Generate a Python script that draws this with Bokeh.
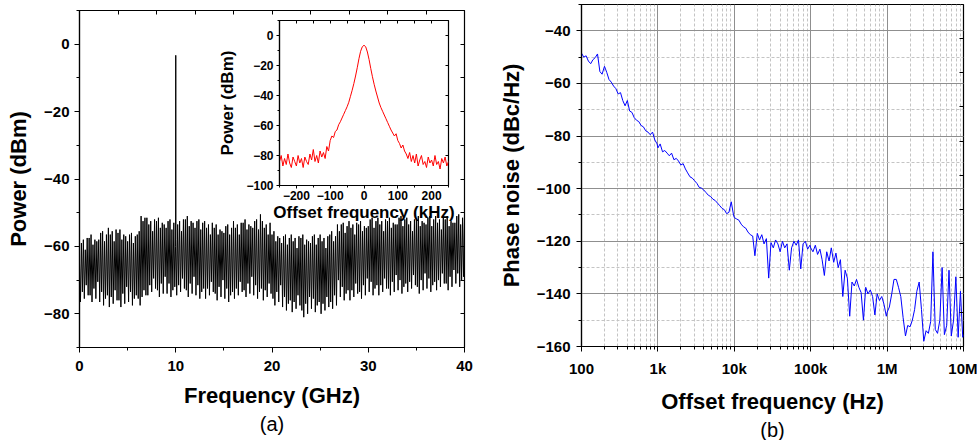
from bokeh.plotting import figure
from bokeh.models import (Range1d, LinearAxis, SingleIntervalTicker, FixedTicker,
                          Title, GridBox, Column)
from bokeh.embed import file_html
from bokeh.resources import INLINE

# ---------------- data ----------------
# (a) RF spectrum 0-40 GHz (carrier at 10 GHz)
spec_freq_ghz = [
    0.0, 0.1, 0.2, 0.3, 0.4, 0.5, 0.6, 0.7, 0.8, 0.9,
    1.0, 1.1, 1.2, 1.3, 1.4, 1.5, 1.6, 1.7, 1.8, 1.9,
    2.0, 2.1, 2.2, 2.3, 2.4, 2.5, 2.6, 2.7, 2.8, 2.9,
    3.0, 3.1, 3.2, 3.3, 3.4, 3.5, 3.6, 3.7, 3.8, 3.9,
    4.0, 4.1, 4.2, 4.3, 4.4, 4.5, 4.6, 4.7, 4.8, 4.9,
    5.0, 5.1, 5.2, 5.3, 5.4, 5.5, 5.6, 5.7, 5.8, 5.9,
    6.0, 6.1, 6.2, 6.3, 6.4, 6.5, 6.6, 6.7, 6.8, 6.9,
    7.0, 7.1, 7.2, 7.3, 7.4, 7.5, 7.6, 7.7, 7.8, 7.9,
    8.0, 8.1, 8.2, 8.3, 8.4, 8.5, 8.6, 8.7, 8.8, 8.9,
    9.0, 9.1, 9.2, 9.3, 9.4, 9.5, 9.6, 9.7, 9.8, 9.9,
    9.98, 10.0, 10.02,
    10.1, 10.2, 10.3, 10.4, 10.5, 10.6, 10.7, 10.8, 10.9,
    11.0, 11.1, 11.2, 11.3, 11.4, 11.5, 11.6, 11.7, 11.8, 11.9,
    12.0, 12.1, 12.2, 12.3, 12.4, 12.5, 12.6, 12.7, 12.8, 12.9,
    13.0, 13.1, 13.2, 13.3, 13.4, 13.5, 13.6, 13.7, 13.8, 13.9,
    14.0, 14.1, 14.2, 14.3, 14.4, 14.5, 14.6, 14.7, 14.8, 14.9,
    15.0, 15.1, 15.2, 15.3, 15.4, 15.5, 15.6, 15.7, 15.8, 15.9,
    16.0, 16.1, 16.2, 16.3, 16.4, 16.5, 16.6, 16.7, 16.8, 16.9,
    17.0, 17.1, 17.2, 17.3, 17.4, 17.5, 17.6, 17.7, 17.8, 17.9,
    18.0, 18.1, 18.2, 18.3, 18.4, 18.5, 18.6, 18.7, 18.8, 18.9,
    19.0, 19.1, 19.2, 19.3, 19.4, 19.5, 19.6, 19.7, 19.8, 19.9,
    20.0, 20.1, 20.2, 20.3, 20.4, 20.5, 20.6, 20.7, 20.8, 20.9,
    21.0, 21.1, 21.2, 21.3, 21.4, 21.5, 21.6, 21.7, 21.8, 21.9,
    22.0, 22.1, 22.2, 22.3, 22.4, 22.5, 22.6, 22.7, 22.8, 22.9,
    23.0, 23.1, 23.2, 23.3, 23.4, 23.5, 23.6, 23.7, 23.8, 23.9,
    24.0, 24.1, 24.2, 24.3, 24.4, 24.5, 24.6, 24.7, 24.8, 24.9,
    25.0, 25.1, 25.2, 25.3, 25.4, 25.5, 25.6, 25.7, 25.8, 25.9,
    26.0, 26.1, 26.2, 26.3, 26.4, 26.5, 26.6, 26.7, 26.8, 26.9,
    27.0, 27.1, 27.2, 27.3, 27.4, 27.5, 27.6, 27.7, 27.8, 27.9,
    28.0, 28.1, 28.2, 28.3, 28.4, 28.5, 28.6, 28.7, 28.8, 28.9,
    29.0, 29.1, 29.2, 29.3, 29.4, 29.5, 29.6, 29.7, 29.8, 29.9,
    30.0, 30.1, 30.2, 30.3, 30.4, 30.5, 30.6, 30.7, 30.8, 30.9,
    31.0, 31.1, 31.2, 31.3, 31.4, 31.5, 31.6, 31.7, 31.8, 31.9,
    32.0, 32.1, 32.2, 32.3, 32.4, 32.5, 32.6, 32.7, 32.8, 32.9,
    33.0, 33.1, 33.2, 33.3, 33.4, 33.5, 33.6, 33.7, 33.8, 33.9,
    34.0, 34.1, 34.2, 34.3, 34.4, 34.5, 34.6, 34.7, 34.8, 34.9,
    35.0, 35.1, 35.2, 35.3, 35.4, 35.5, 35.6, 35.7, 35.8, 35.9,
    36.0, 36.1, 36.2, 36.3, 36.4, 36.5, 36.6, 36.7, 36.8, 36.9,
    37.0, 37.1, 37.2, 37.3, 37.4, 37.5, 37.6, 37.7, 37.8, 37.9,
    38.0, 38.1, 38.2, 38.3, 38.4, 38.5, 38.6, 38.7, 38.8, 38.9,
    39.0, 39.1, 39.2, 39.3, 39.4, 39.5, 39.6, 39.7, 39.8, 39.9,
    40.0,
]
spec_dbm = [
    -65, -76.5, -59, -73.5, -58, -75.5, -61, -71.5, -57.5, -74.5,
    -57.5, -74.5, -56.5, -76.5, -59.5, -72.5, -58, -75.5, -58.5, -70.5,
    -58, -76.5, -56, -73.5, -55.5, -77.5, -58.5, -75.5, -56.5, -74.5,
    -54.5, -78, -56.5, -75, -55.5, -77, -58.5, -73, -55, -76,
    -56, -76, -55, -78, -58, -74, -56.5, -77, -57, -72,
    -58.5, -76.5, -56.5, -73.5, -56, -77.5, -59, -75.5, -57, -74.5,
    -56.5, -75.5, -55.5, -77.5, -51, -75, -52.5, -73, -51.5, -74.5,
    -51.5, -74.5, -53.5, -71.5, -52.5, -73.5, -55.5, -69.5, -52, -72.5,
    -52.5, -73, -51.5, -75, -54.5, -71, -53, -74, -53.5, -69,
    -54.5, -74, -52.5, -71, -52, -75, -55, -73, -53, -72,
    -60, -3.3, -58,
    -74.5, -53.5, -71.5, -52.5, -73.5, -55.5, -69.5, -52, -72.5,
    -52, -73, -51, -75, -54, -71, -52.5, -74, -53, -69,
    -54.5, -74.5, -52.5, -71.5, -52, -75.5, -55, -73.5, -53, -72.5,
    -52.5, -75.5, -54.5, -72.5, -53.5, -74.5, -56.5, -70.5, -53, -73.5,
    -54.5, -74, -53.5, -76, -56.5, -72, -55, -75, -55.5, -70,
    -56, -75.5, -54, -72.5, -53.5, -76.5, -56.5, -74.5, -54.5, -73.5,
    -52.5, -75.5, -54.5, -72.5, -53.5, -74.5, -56.5, -70.5, -53, -73.5,
    -53, -73, -52, -75, -55, -71, -53.5, -74, -54, -69,
    -54.5, -74.5, -52.5, -71.5, -52, -75.5, -55, -73.5, -50.5, -72.5,
    -52.5, -76, -54.5, -73, -53.5, -75, -56.5, -71, -53, -74,
    -56.5, -75.5, -55.5, -77.5, -58.5, -73.5, -57, -76.5, -57.5, -71.5,
    -59, -78, -57, -75, -56.5, -79, -59.5, -77, -57.5, -76,
    -56.5, -79.5, -58.5, -76.5, -57.5, -78.5, -60.5, -74.5, -57, -77.5,
    -57.5, -79, -56.5, -81, -59.5, -77, -58, -80, -58.5, -75,
    -59, -78.5, -57, -75.5, -56.5, -79.5, -59.5, -77.5, -57.5, -76.5,
    -56.5, -80, -58.5, -77, -57.5, -79, -60.5, -75, -57, -78,
    -56.5, -76.5, -55.5, -78.5, -58.5, -74.5, -57, -77.5, -53.5, -70,
    -55.5, -75, -53.5, -72, -53, -76, -56, -74, -54, -73,
    -52.5, -76, -54.5, -73, -53.5, -75, -56.5, -71, -53, -74,
    -53.5, -73.5, -52.5, -75.5, -55.5, -71.5, -54, -74.5, -54.5, -69.5,
    -54, -73.5, -52, -70.5, -51.5, -74.5, -54.5, -72.5, -52.5, -71.5,
    -51.5, -74.5, -53.5, -71.5, -52.5, -73.5, -55.5, -69.5, -52, -72.5,
    -52.5, -72.5, -51.5, -74.5, -54.5, -70.5, -53, -73.5, -53.5, -68.5,
    -53.5, -73, -51.5, -70, -51, -74, -54, -72, -52, -71,
    -51.5, -73.5, -53.5, -70.5, -52.5, -72.5, -55.5, -68.5, -52, -71.5,
    -52, -72, -51, -74, -54, -70, -52.5, -73, -53, -68,
    -53.5, -72.5, -51.5, -69.5, -51, -73.5, -54, -71.5, -52, -70.5,
    -51, -73, -53, -70, -52, -72, -55, -68, -51.5, -71,
    -52, -71, -51, -73, -54, -69, -52.5, -72, -53, -67,
    -53, -71, -51, -68, -50.5, -72, -53.5, -70, -51.5, -69,
    -50.5,
]

# inset: zoom on the 10 GHz carrier
inset_offset_khz = [
    -250, -245, -240, -235, -230, -225, -220, -215, -210, -205,
    -200, -195, -190, -185, -180, -175, -170, -165, -160, -155,
    -150, -145, -140, -135, -130, -125, -120, -115, -110, -105,
    -100, -95, -90, -85, -80, -75, -70, -65, -60, -55,
    -50, -45, -40, -35, -30, -25, -20, -15, -10, -5,
    0,
    5, 10, 15, 20, 25, 30, 35, 40, 45, 50,
    55, 60, 65, 70, 75, 80, 85, 90, 95, 100,
    105, 110, 115, 120, 125, 130, 135, 140, 145, 150,
    155, 160, 165, 170, 175, 180, 185, 190, 195, 200,
    205, 210, 215, 220, 225, 230, 235, 240, 245, 250,
]
inset_dbm = [
    -84, -80, -87, -82, -86, -79, -85, -88, -81, -84,
    -87, -80, -85, -82, -88, -81, -84, -86, -79, -83,
    -76, -84, -80, -85, -77, -81, -78, -82, -74, -77,
    -70, -67, -68, -64, -63, -59.5, -57.5, -55, -52.5, -50,
    -47.5, -44.5, -40.5, -36.5, -32, -27, -21.5, -15.5, -10.5, -7.5,
    -6.5,
    -7.5, -11, -16, -22, -27.5, -32.5, -37, -41, -45, -48,
    -50.5, -53, -55.5, -58, -60.5, -63, -65, -67, -65.5, -70,
    -72, -75, -73, -77, -79, -82, -78, -84, -80, -85,
    -79, -87, -83, -80, -86, -84, -88, -81, -85, -83,
    -87, -80, -86, -84, -89, -82, -85, -81, -87, -84,
]

# (b) single-sideband phase noise
pn_freq_hz = [
    100, 107, 115, 123, 132, 141, 151, 162, 174, 186,
    200, 214, 229, 245, 263, 282, 302, 324, 347, 372,
    398, 427, 457, 490, 525, 562, 603, 646, 692, 741,
    794, 851, 912, 977,
    1.00e3, 1.07e3, 1.15e3, 1.23e3, 1.32e3, 1.41e3, 1.51e3, 1.62e3, 1.74e3, 1.86e3,
    2.00e3, 2.14e3, 2.29e3, 2.45e3, 2.63e3, 2.82e3, 3.02e3, 3.24e3, 3.47e3, 3.72e3,
    3.98e3, 4.27e3, 4.57e3, 4.90e3, 5.25e3, 5.62e3, 6.03e3, 6.46e3, 6.92e3, 7.41e3,
    7.94e3, 8.51e3, 9.12e3, 9.77e3,
    1.00e4, 1.07e4, 1.15e4, 1.23e4, 1.32e4, 1.41e4, 1.51e4, 1.62e4, 1.74e4, 1.86e4,
    2.00e4, 2.14e4, 2.29e4, 2.45e4, 2.63e4, 2.82e4, 3.02e4, 3.24e4, 3.47e4, 3.72e4,
    3.98e4, 4.27e4, 4.57e4, 4.90e4, 5.25e4, 5.62e4, 6.03e4, 6.46e4, 6.92e4, 7.41e4,
    7.94e4, 8.51e4, 9.12e4, 9.77e4,
    1.00e5, 1.07e5, 1.15e5, 1.23e5, 1.32e5, 1.41e5, 1.51e5, 1.62e5, 1.74e5, 1.86e5,
    2.00e5, 2.14e5, 2.29e5, 2.45e5, 2.63e5, 2.82e5, 3.02e5, 3.24e5, 3.47e5, 3.72e5,
    3.98e5, 4.27e5, 4.57e5, 4.90e5, 5.25e5, 5.62e5, 6.03e5, 6.46e5, 6.92e5, 7.41e5,
    7.94e5, 8.51e5, 9.12e5, 9.77e5,
    1.00e6, 1.07e6, 1.15e6, 1.23e6, 1.32e6, 1.41e6, 1.51e6, 1.62e6, 1.74e6, 1.86e6,
    2.00e6, 2.14e6, 2.29e6, 2.45e6, 2.63e6, 2.82e6, 3.02e6, 3.24e6, 3.47e6, 3.72e6,
    3.98e6, 4.27e6, 4.57e6, 4.90e6, 5.25e6, 5.62e6, 6.03e6, 6.46e6, 6.92e6, 7.41e6,
    7.94e6, 8.51e6, 9.12e6, 9.77e6,
    1.00e7,
]
pn_dbc_hz = [
    -48.5, -50.0, -49.5, -51.5, -52.5, -51.0, -50.2, -48.8, -55.5, -56.5,
    -53.5, -55.8, -58.5, -59.5, -61.0, -62.0, -64.0, -63.5, -66.5, -68.5,
    -66.5, -70.5, -71.0, -73.0, -74.0, -74.5, -76.0, -76.5, -78.0, -78.5,
    -79.5, -78.5, -81.5, -83.0,
    -84.5, -83.0, -86.0, -85.5, -86.5, -87.5, -86.5, -89.0, -88.5, -89.5,
    -91.0, -90.5, -92.5, -94.0, -95.5, -96.0, -97.0, -98.0, -99.5, -99.8,
    -100.5, -101.5, -102.5, -103.0, -104.0, -104.5, -105.5, -106.5, -107.5, -108.0,
    -109.5, -109.0, -105.0, -110.0,
    -111.0, -111.5, -112.0, -113.5, -114.5, -115.0, -116.5, -117.5, -118.0, -125.5,
    -117.0, -119.5, -117.5, -121.0, -119.0, -134.0, -120.5, -122.5, -119.5, -121.0,
    -124.0, -120.0, -122.5, -121.0, -131.0, -122.5, -120.0, -121.5, -119.5, -130.5,
    -121.0, -120.0, -123.0, -121.5,
    -122.5, -124.0, -121.5, -125.0, -123.0, -127.0, -133.0, -124.0, -127.5, -122.5,
    -128.0, -124.5, -130.0, -127.0, -141.0, -131.0, -134.0, -148.5, -135.5, -137.0,
    -134.5, -137.5, -139.5, -150.0, -137.5, -140.0, -138.5, -141.0, -148.0, -140.0,
    -142.5, -141.0, -144.0, -148.5,
    -147.0, -145.0, -140.0, -134.5, -134.5, -137.5, -141.0, -149.0, -156.0, -152.0,
    -152.5, -150.0, -146.0, -139.0, -135.5, -146.0, -158.0, -154.0, -155.0, -150.5,
    -124.0, -153.5, -155.0, -150.0, -130.0, -155.5, -152.0, -131.0, -156.0, -150.0,
    -133.5, -156.5, -139.0, -156.5,
    -155.5,
]

pn_major_hz = [1e2, 1e3, 1e4, 1e5, 1e6, 1e7]
pn_major_labels = ["100", "1k", "10k", "100k", "1M", "10M"]
pn_minor_hz = [m * d for d in [1e2, 1e3, 1e4, 1e5, 1e6] for m in range(2, 10)]

panel_captions = ["(a)", "(b)"]

# ---------------- styling helpers ----------------
FONT = "Liberation Sans"


def style_axis(ax, tick_px, label_px, major_out=5, minor_out=3, standoff=6,
               label_standoff=9):
    ax.major_label_text_font = FONT
    ax.major_label_text_font_size = f"{tick_px}px"
    ax.major_label_text_font_style = "bold"
    ax.major_label_text_color = "black"
    ax.axis_label_text_font = FONT
    ax.axis_label_text_font_size = f"{label_px}px"
    ax.axis_label_text_font_style = "bold"
    ax.axis_label_text_color = "black"
    ax.axis_line_color = "black"
    ax.axis_line_width = 1.2
    ax.major_tick_line_color = "black"
    ax.minor_tick_line_color = "black"
    ax.major_tick_out = major_out
    ax.major_tick_in = 0
    ax.minor_tick_out = minor_out
    ax.minor_tick_in = 0
    ax.major_label_standoff = standoff
    ax.axis_label_standoff = label_standoff


def mirror_axis(ticker, tick_len=4):
    ax = LinearAxis(ticker=ticker)
    ax.major_label_text_font_size = "1px"
    ax.major_label_text_color = None
    ax.major_label_standoff = 0
    ax.axis_label_standoff = 0
    ax.axis_line_color = None
    ax.major_tick_in = tick_len
    ax.major_tick_out = 0
    ax.minor_tick_line_color = None
    ax.major_tick_line_color = "black"
    return ax


def caption(text):
    return Title(text=text, align="center", text_font=FONT, text_font_size="20px",
                 text_font_style="normal", text_color="black", standoff=0, offset=0)


# ---------------- (a) main spectrum ----------------
p1 = figure(width=476, height=440, x_range=Range1d(0, 40), y_range=Range1d(-90, 10),
            output_backend="svg", toolbar_location=None,
            min_border_left=79, min_border_right=12, min_border_top=10, min_border_bottom=93)
p1.grid.visible = False
p1.outline_line_color = "black"
p1.outline_line_width = 1.2
p1.background_fill_color = "white"
p1.border_fill_color = "white"
p1.xaxis.ticker = SingleIntervalTicker(interval=10, num_minor_ticks=2)
p1.yaxis.ticker = SingleIntervalTicker(interval=20, num_minor_ticks=2)
p1.xaxis.axis_label = "Frequency (GHz)"
p1.yaxis.axis_label = "Power (dBm)"
style_axis(p1.xaxis[0], 15, 22, standoff=8, label_standoff=9)
style_axis(p1.yaxis[0], 15, 22, standoff=5, label_standoff=10)
p1.add_layout(mirror_axis(SingleIntervalTicker(interval=10)), "right")
p1.add_layout(mirror_axis(SingleIntervalTicker(interval=4)), "above")
p1.line(spec_freq_ghz, spec_dbm, line_color="black", line_width=1)
p1.add_layout(caption(panel_captions[0]), "below")

# ---------------- inset (transparent border so the main trace shows through) ----------------
p_in = figure(width=466, height=226, x_range=Range1d(-250, 250), y_range=Range1d(-100, 10),
              output_backend="svg", toolbar_location=None,
              min_border_left=279, min_border_right=18, min_border_top=20, min_border_bottom=41)
p_in.grid.visible = False
p_in.outline_line_color = "black"
p_in.outline_line_width = 1.2
p_in.background_fill_color = "white"
p_in.border_fill_color = None
p_in.xaxis.ticker = SingleIntervalTicker(interval=100, num_minor_ticks=2)
p_in.yaxis.ticker = SingleIntervalTicker(interval=20, num_minor_ticks=2)
p_in.xaxis.axis_label = "Offset frequency (kHz)"
p_in.yaxis.axis_label = "Power (dBm)"
style_axis(p_in.xaxis[0], 12, 17, major_out=3, minor_out=2, standoff=2, label_standoff=0)
style_axis(p_in.yaxis[0], 12, 17, major_out=3, minor_out=2, standoff=3, label_standoff=6)
p_in.add_layout(mirror_axis(SingleIntervalTicker(interval=20), 3), "right")
p_in.add_layout(mirror_axis(SingleIntervalTicker(interval=50), 3), "above")
p_in.line(inset_offset_khz, inset_dbm, line_color="#ff0000", line_width=1)

# ---------------- (b) phase noise ----------------
p2 = figure(width=501, height=440, x_axis_type="log", x_range=Range1d(1e2, 1e7),
            y_range=Range1d(-160, -30), output_backend="svg", toolbar_location=None,
            min_border_left=105, min_border_right=14, min_border_top=4, min_border_bottom=93)
p2.outline_line_color = "black"
p2.outline_line_width = 1.2
p2.background_fill_color = "white"
p2.border_fill_color = "white"
p2.xaxis.ticker = FixedTicker(ticks=pn_major_hz, minor_ticks=pn_minor_hz)
p2.xaxis.major_label_overrides = {t: s for t, s in zip(pn_major_hz, pn_major_labels)}
p2.yaxis.ticker = SingleIntervalTicker(interval=20, num_minor_ticks=2)
p2.xaxis.axis_label = "Offset frequency (Hz)"
p2.yaxis.axis_label = "Phase noise (dBc/Hz)"
style_axis(p2.xaxis[0], 15, 22, standoff=8, label_standoff=9)
style_axis(p2.yaxis[0], 15, 22, standoff=6, label_standoff=10)
for g in (p2.xgrid[0], p2.ygrid[0]):
    g.grid_line_color = "#8f8f8f"
    g.grid_line_width = 1
    g.minor_grid_line_color = "#c4c4c4"
    g.minor_grid_line_dash = "3 2"
    g.minor_grid_line_width = 1
p2.add_layout(mirror_axis(FixedTicker(ticks=[-42.9, -55.9, -68.9, -81.9, -94.9,
                                              -107.9, -120.9, -133.9, -146.9])), "right")
p2.line(pn_freq_hz, pn_dbc_hz, line_color="#0000ff", line_width=1)
p2.add_layout(caption(panel_captions[1]), "below")

# wrap each plot in its own Column so the grid does not align plot borders
cell_main = Column(children=[p1], spacing=0)
cell_inset = Column(children=[p_in], spacing=0, align="start")
cell_right = Column(children=[p2], spacing=0)
layout = GridBox(children=[(cell_main, 0, 0), (cell_inset, 0, 0), (cell_right, 0, 1)],
                 spacing=0)

open("out.html", "w").write(file_html(layout, INLINE))
